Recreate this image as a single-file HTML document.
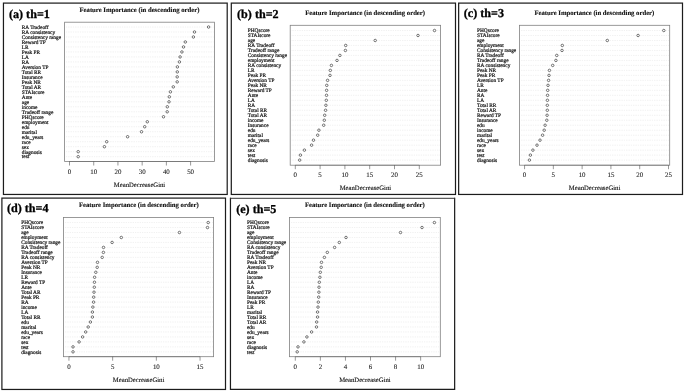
<!DOCTYPE html>
<html lang="en">
<head>
<meta charset="utf-8">
<title>Feature Importance</title>
<style>
html,body{margin:0;padding:0;background:#fff;}
svg{display:block;}
text{font-family:"Liberation Serif", serif;text-rendering:geometricPrecision;}
.lab{font-size:5.33px;fill:#222;stroke:#222;stroke-width:0.22px;}
.tick{font-size:6.9px;fill:#222;stroke:#222;stroke-width:0.1px;text-anchor:middle;}
.xlab{font-size:6.66px;fill:#111;stroke:#111;stroke-width:0.12px;text-anchor:middle;}
.title{font-size:6.7px;font-weight:bold;fill:#111;stroke:#111;stroke-width:0.12px;text-anchor:middle;}
.plabel{font-size:12.1px;font-weight:bold;fill:#000;stroke:#000;stroke-width:0.3px;}
.border{fill:none;stroke:#1c1c1c;stroke-width:1.22;}
.box{fill:none;stroke:#808080;stroke-width:0.8;}
.grid{stroke:#d9d9d9;stroke-width:0.6;stroke-dasharray:0.6 1.15;fill:none;}
.dot{fill:#fff;stroke:#2e2e2e;stroke-width:0.65;}
.tk{stroke:#444;stroke-width:0.55;fill:none;}
.ax{stroke:#5a5a5a;stroke-width:0.5;fill:none;}
</style>
</head>
<body>
<svg width="685" height="392" viewBox="0 0 685 392">
<rect x="0" y="0" width="685" height="392" fill="#fff"/>
<g id="panel-a">
<rect class="border" x="3.45" y="3.1" width="223.75" height="191.35"/>
<path class="grid" d="M66.2 27H213.6M66.2 31.99H213.6M66.2 36.98H213.6M66.2 41.96H213.6M66.2 46.95H213.6M66.2 51.94H213.6M66.2 56.93H213.6M66.2 61.92H213.6M66.2 66.9H213.6M66.2 71.89H213.6M66.2 76.88H213.6M66.2 81.87H213.6M66.2 86.86H213.6M66.2 91.84H213.6M66.2 96.83H213.6M66.2 101.82H213.6M66.2 106.81H213.6M66.2 111.8H213.6M66.2 116.78H213.6M66.2 121.77H213.6M66.2 126.76H213.6M66.2 131.75H213.6M66.2 136.74H213.6M66.2 141.72H213.6M66.2 146.71H213.6M66.2 151.7H213.6M66.2 156.69H213.6"/>
<rect class="box" x="64.6" y="22.2" width="149.8" height="139.3"/>
<path class="ax" d="M69.5 161.5H190.6"/>
<path class="tk" d="M69.5 161.5v4M93.72 161.5v4M117.94 161.5v4M142.16 161.5v4M166.38 161.5v4M190.6 161.5v4"/>
<text class="tick" x="69.5" y="173.9">0</text>
<text class="tick" x="93.72" y="173.9">10</text>
<text class="tick" x="117.94" y="173.9">20</text>
<text class="tick" x="142.16" y="173.9">30</text>
<text class="tick" x="166.38" y="173.9">40</text>
<text class="tick" x="190.6" y="173.9">50</text>
<circle class="dot" cx="208.6" cy="27" r="1.25"/>
<circle class="dot" cx="194.5" cy="31.99" r="1.25"/>
<circle class="dot" cx="193.4" cy="36.98" r="1.25"/>
<circle class="dot" cx="185.3" cy="41.96" r="1.25"/>
<circle class="dot" cx="183.5" cy="46.95" r="1.25"/>
<circle class="dot" cx="181.9" cy="51.94" r="1.25"/>
<circle class="dot" cx="180.1" cy="56.93" r="1.25"/>
<circle class="dot" cx="179.4" cy="61.92" r="1.25"/>
<circle class="dot" cx="177.4" cy="66.9" r="1.25"/>
<circle class="dot" cx="177.3" cy="71.89" r="1.25"/>
<circle class="dot" cx="177.2" cy="76.88" r="1.25"/>
<circle class="dot" cx="177.2" cy="81.87" r="1.25"/>
<circle class="dot" cx="173.3" cy="86.86" r="1.25"/>
<circle class="dot" cx="170.4" cy="91.84" r="1.25"/>
<circle class="dot" cx="169.3" cy="96.83" r="1.25"/>
<circle class="dot" cx="169" cy="101.82" r="1.25"/>
<circle class="dot" cx="167.3" cy="106.81" r="1.25"/>
<circle class="dot" cx="167.2" cy="111.8" r="1.25"/>
<circle class="dot" cx="163.5" cy="116.78" r="1.25"/>
<circle class="dot" cx="147.3" cy="121.77" r="1.25"/>
<circle class="dot" cx="144.7" cy="126.76" r="1.25"/>
<circle class="dot" cx="141.5" cy="131.75" r="1.25"/>
<circle class="dot" cx="127.6" cy="136.74" r="1.25"/>
<circle class="dot" cx="106.7" cy="141.72" r="1.25"/>
<circle class="dot" cx="104.4" cy="146.71" r="1.25"/>
<circle class="dot" cx="78.2" cy="151.7" r="1.25"/>
<circle class="dot" cx="78.2" cy="156.69" r="1.25"/>
<text class="lab" x="21.8" y="28.8">RA Tradeoff</text>
<text class="lab" x="21.8" y="33.79">RA consistency</text>
<text class="lab" x="21.8" y="38.78">Consistency range</text>
<text class="lab" x="21.8" y="43.76">Reward TP</text>
<text class="lab" x="21.8" y="48.75">LR</text>
<text class="lab" x="21.8" y="53.74">Peak PR</text>
<text class="lab" x="21.8" y="58.73">LA</text>
<text class="lab" x="21.8" y="63.72">RA</text>
<text class="lab" x="21.8" y="68.7">Aversion TP</text>
<text class="lab" x="21.8" y="73.69">Total RR</text>
<text class="lab" x="21.8" y="78.68">Insurance</text>
<text class="lab" x="21.8" y="83.67">Peak NR</text>
<text class="lab" x="21.8" y="88.66">Total AR</text>
<text class="lab" x="21.8" y="93.64">STAIscore</text>
<text class="lab" x="21.8" y="98.63">Ante</text>
<text class="lab" x="21.8" y="103.62">age</text>
<text class="lab" x="21.8" y="108.61">income</text>
<text class="lab" x="21.8" y="113.6">Tradeoff range</text>
<text class="lab" x="21.8" y="118.58">PHQscore</text>
<text class="lab" x="21.8" y="123.57">employment</text>
<text class="lab" x="21.8" y="128.56">edu</text>
<text class="lab" x="21.8" y="133.55">marital</text>
<text class="lab" x="21.8" y="138.54">edu_years</text>
<text class="lab" x="21.8" y="143.52">race</text>
<text class="lab" x="21.8" y="148.51">sex</text>
<text class="lab" x="21.8" y="153.5">diagnosis</text>
<text class="lab" x="21.8" y="158.49">test</text>
<text class="title" x="139.45" y="11.7">Feature Importance (in descending order)</text>
<text class="xlab" x="139.5" y="186.6">MeanDecreaseGini</text>
<text class="plabel" x="9" y="17.5">(a) th=1</text>
</g>
<g id="panel-b">
<rect class="border" x="231.3" y="3.1" width="224.2" height="191.35"/>
<path class="grid" d="M291.8 30.5H439.8M291.8 35.48H439.8M291.8 40.47H439.8M291.8 45.45H439.8M291.8 50.44H439.8M291.8 55.42H439.8M291.8 60.41H439.8M291.8 65.4H439.8M291.8 70.38H439.8M291.8 75.37H439.8M291.8 80.35H439.8M291.8 85.34H439.8M291.8 90.32H439.8M291.8 95.31H439.8M291.8 100.29H439.8M291.8 105.28H439.8M291.8 110.26H439.8M291.8 115.25H439.8M291.8 120.23H439.8M291.8 125.22H439.8M291.8 130.2H439.8M291.8 135.19H439.8M291.8 140.17H439.8M291.8 145.16H439.8M291.8 150.14H439.8M291.8 155.12H439.8M291.8 160.11H439.8"/>
<rect class="box" x="290.2" y="25.3" width="150.4" height="139.9"/>
<path class="ax" d="M295.3 165.2H419.3"/>
<path class="tk" d="M295.3 165.2v4M320.1 165.2v4M344.9 165.2v4M369.7 165.2v4M394.5 165.2v4M419.3 165.2v4"/>
<text class="tick" x="295.3" y="176.6">0</text>
<text class="tick" x="320.1" y="176.6">5</text>
<text class="tick" x="344.9" y="176.6">10</text>
<text class="tick" x="369.7" y="176.6">15</text>
<text class="tick" x="394.5" y="176.6">20</text>
<text class="tick" x="419.3" y="176.6">25</text>
<circle class="dot" cx="434.5" cy="30.5" r="1.25"/>
<circle class="dot" cx="418" cy="35.48" r="1.25"/>
<circle class="dot" cx="375.2" cy="40.47" r="1.25"/>
<circle class="dot" cx="345.7" cy="45.45" r="1.25"/>
<circle class="dot" cx="345.4" cy="50.44" r="1.25"/>
<circle class="dot" cx="339.9" cy="55.42" r="1.25"/>
<circle class="dot" cx="337" cy="60.41" r="1.25"/>
<circle class="dot" cx="331.4" cy="65.4" r="1.25"/>
<circle class="dot" cx="330.3" cy="70.38" r="1.25"/>
<circle class="dot" cx="330" cy="75.37" r="1.25"/>
<circle class="dot" cx="327.6" cy="80.35" r="1.25"/>
<circle class="dot" cx="326.75" cy="85.34" r="1.25"/>
<circle class="dot" cx="326.6" cy="90.32" r="1.25"/>
<circle class="dot" cx="326.5" cy="95.31" r="1.25"/>
<circle class="dot" cx="326.3" cy="100.29" r="1.25"/>
<circle class="dot" cx="325.9" cy="105.28" r="1.25"/>
<circle class="dot" cx="325.6" cy="110.26" r="1.25"/>
<circle class="dot" cx="324.7" cy="115.25" r="1.25"/>
<circle class="dot" cx="324.3" cy="120.23" r="1.25"/>
<circle class="dot" cx="323.7" cy="125.22" r="1.25"/>
<circle class="dot" cx="318.9" cy="130.2" r="1.25"/>
<circle class="dot" cx="317.7" cy="135.19" r="1.25"/>
<circle class="dot" cx="313.5" cy="140.17" r="1.25"/>
<circle class="dot" cx="311.6" cy="145.16" r="1.25"/>
<circle class="dot" cx="304.4" cy="150.14" r="1.25"/>
<circle class="dot" cx="300.4" cy="155.12" r="1.25"/>
<circle class="dot" cx="299.7" cy="160.11" r="1.25"/>
<text class="lab" x="247.8" y="32.3">PHQscore</text>
<text class="lab" x="247.8" y="37.28">STAIscore</text>
<text class="lab" x="247.8" y="42.27">age</text>
<text class="lab" x="247.8" y="47.25">RA Tradeoff</text>
<text class="lab" x="247.8" y="52.24">Tradeoff range</text>
<text class="lab" x="247.8" y="57.22">Consistency range</text>
<text class="lab" x="247.8" y="62.21">employment</text>
<text class="lab" x="247.8" y="67.2">RA consistency</text>
<text class="lab" x="247.8" y="72.18">LR</text>
<text class="lab" x="247.8" y="77.17">Peak PR</text>
<text class="lab" x="247.8" y="82.15">Aversion TP</text>
<text class="lab" x="247.8" y="87.14">Peak NR</text>
<text class="lab" x="247.8" y="92.12">Reward TP</text>
<text class="lab" x="247.8" y="97.11">Ante</text>
<text class="lab" x="247.8" y="102.09">LA</text>
<text class="lab" x="247.8" y="107.08">RA</text>
<text class="lab" x="247.8" y="112.06">Total RR</text>
<text class="lab" x="247.8" y="117.05">Total AR</text>
<text class="lab" x="247.8" y="122.03">income</text>
<text class="lab" x="247.8" y="127.02">Insurance</text>
<text class="lab" x="247.8" y="132">edu</text>
<text class="lab" x="247.8" y="136.99">marital</text>
<text class="lab" x="247.8" y="141.97">edu_years</text>
<text class="lab" x="247.8" y="146.96">race</text>
<text class="lab" x="247.8" y="151.94">sex</text>
<text class="lab" x="247.8" y="156.93">test</text>
<text class="lab" x="247.8" y="161.91">diagnosis</text>
<text class="title" x="365.1" y="14.9">Feature Importance (in descending order)</text>
<text class="xlab" x="365.4" y="189.7">MeanDecreaseGini</text>
<text class="plabel" x="237.1" y="17.6">(b) th=2</text>
</g>
<g id="panel-c">
<rect class="border" x="458.65" y="3.1" width="223.85" height="191.35"/>
<path class="grid" d="M521 30.5H668.9M521 35.48H668.9M521 40.47H668.9M521 45.45H668.9M521 50.44H668.9M521 55.42H668.9M521 60.41H668.9M521 65.4H668.9M521 70.38H668.9M521 75.37H668.9M521 80.35H668.9M521 85.34H668.9M521 90.32H668.9M521 95.31H668.9M521 100.29H668.9M521 105.28H668.9M521 110.26H668.9M521 115.25H668.9M521 120.23H668.9M521 125.22H668.9M521 130.2H668.9M521 135.19H668.9M521 140.17H668.9M521 145.16H668.9M521 150.14H668.9M521 155.12H668.9M521 160.11H668.9"/>
<rect class="box" x="519.4" y="25.3" width="150.3" height="139.9"/>
<path class="ax" d="M524.55 165.2H668.5"/>
<path class="tk" d="M524.55 165.2v4M553.34 165.2v4M582.13 165.2v4M610.92 165.2v4M639.71 165.2v4M668.5 165.2v4"/>
<text class="tick" x="524.55" y="176.6">0</text>
<text class="tick" x="553.34" y="176.6">5</text>
<text class="tick" x="582.13" y="176.6">10</text>
<text class="tick" x="610.92" y="176.6">15</text>
<text class="tick" x="639.71" y="176.6">20</text>
<text class="tick" x="668.5" y="176.6">25</text>
<circle class="dot" cx="663.8" cy="30.5" r="1.25"/>
<circle class="dot" cx="638.1" cy="35.48" r="1.25"/>
<circle class="dot" cx="607.3" cy="40.47" r="1.25"/>
<circle class="dot" cx="562.3" cy="45.45" r="1.25"/>
<circle class="dot" cx="562" cy="50.44" r="1.25"/>
<circle class="dot" cx="556.75" cy="55.42" r="1.25"/>
<circle class="dot" cx="555.9" cy="60.41" r="1.25"/>
<circle class="dot" cx="552.7" cy="65.4" r="1.25"/>
<circle class="dot" cx="549.45" cy="70.38" r="1.25"/>
<circle class="dot" cx="549" cy="75.37" r="1.25"/>
<circle class="dot" cx="548.6" cy="80.35" r="1.25"/>
<circle class="dot" cx="548" cy="85.34" r="1.25"/>
<circle class="dot" cx="547.7" cy="90.32" r="1.25"/>
<circle class="dot" cx="547.55" cy="95.31" r="1.25"/>
<circle class="dot" cx="547.4" cy="100.29" r="1.25"/>
<circle class="dot" cx="547.3" cy="105.28" r="1.25"/>
<circle class="dot" cx="547.3" cy="110.26" r="1.25"/>
<circle class="dot" cx="547.1" cy="115.25" r="1.25"/>
<circle class="dot" cx="546.8" cy="120.23" r="1.25"/>
<circle class="dot" cx="545.1" cy="125.22" r="1.25"/>
<circle class="dot" cx="544.2" cy="130.2" r="1.25"/>
<circle class="dot" cx="542.6" cy="135.19" r="1.25"/>
<circle class="dot" cx="540" cy="140.17" r="1.25"/>
<circle class="dot" cx="537" cy="145.16" r="1.25"/>
<circle class="dot" cx="532.9" cy="150.14" r="1.25"/>
<circle class="dot" cx="530.4" cy="155.12" r="1.25"/>
<circle class="dot" cx="529.4" cy="160.11" r="1.25"/>
<text class="lab" x="477" y="32.3">PHQscore</text>
<text class="lab" x="477" y="37.28">STAIscore</text>
<text class="lab" x="477" y="42.27">age</text>
<text class="lab" x="477" y="47.25">employment</text>
<text class="lab" x="477" y="52.24">Consistency range</text>
<text class="lab" x="477" y="57.22">RA Tradeoff</text>
<text class="lab" x="477" y="62.21">Tradeoff range</text>
<text class="lab" x="477" y="67.2">RA consistency</text>
<text class="lab" x="477" y="72.18">Peak NR</text>
<text class="lab" x="477" y="77.17">Peak PR</text>
<text class="lab" x="477" y="82.15">Aversion TP</text>
<text class="lab" x="477" y="87.14">LR</text>
<text class="lab" x="477" y="92.12">Ante</text>
<text class="lab" x="477" y="97.11">RA</text>
<text class="lab" x="477" y="102.09">LA</text>
<text class="lab" x="477" y="107.08">Total RR</text>
<text class="lab" x="477" y="112.06">Total AR</text>
<text class="lab" x="477" y="117.05">Reward TP</text>
<text class="lab" x="477" y="122.03">Insurance</text>
<text class="lab" x="477" y="127.02">edu</text>
<text class="lab" x="477" y="132">income</text>
<text class="lab" x="477" y="136.99">marital</text>
<text class="lab" x="477" y="141.97">edu_years</text>
<text class="lab" x="477" y="146.96">race</text>
<text class="lab" x="477" y="151.94">sex</text>
<text class="lab" x="477" y="156.93">test</text>
<text class="lab" x="477" y="161.91">diagnosis</text>
<text class="title" x="594.4" y="14.6">Feature Importance (in descending order)</text>
<text class="xlab" x="594.55" y="189.7">MeanDecreaseGini</text>
<text class="plabel" x="463.8" y="17">(c) th=3</text>
</g>
<g id="panel-d">
<rect class="border" x="1.9" y="198.1" width="223.6" height="191.35"/>
<path class="grid" d="M65.1 222.55H212.8M65.1 227.52H212.8M65.1 232.5H212.8M65.1 237.47H212.8M65.1 242.44H212.8M65.1 247.42H212.8M65.1 252.39H212.8M65.1 257.36H212.8M65.1 262.33H212.8M65.1 267.31H212.8M65.1 272.28H212.8M65.1 277.25H212.8M65.1 282.23H212.8M65.1 287.2H212.8M65.1 292.17H212.8M65.1 297.14H212.8M65.1 302.12H212.8M65.1 307.09H212.8M65.1 312.06H212.8M65.1 317.04H212.8M65.1 322.01H212.8M65.1 326.98H212.8M65.1 331.96H212.8M65.1 336.93H212.8M65.1 341.9H212.8M65.1 346.88H212.8M65.1 351.85H212.8"/>
<rect class="box" x="63.5" y="217.5" width="150.1" height="139.2"/>
<path class="ax" d="M68.95 356.7H200.05"/>
<path class="tk" d="M68.95 356.7v4M112.65 356.7v4M156.35 356.7v4M200.05 356.7v4"/>
<text class="tick" x="68.95" y="368.8">0</text>
<text class="tick" x="112.65" y="368.8">5</text>
<text class="tick" x="156.35" y="368.8">10</text>
<text class="tick" x="200.05" y="368.8">15</text>
<circle class="dot" cx="208.2" cy="222.55" r="1.25"/>
<circle class="dot" cx="207.5" cy="227.52" r="1.25"/>
<circle class="dot" cx="179.45" cy="232.5" r="1.25"/>
<circle class="dot" cx="121.3" cy="237.47" r="1.25"/>
<circle class="dot" cx="112.1" cy="242.44" r="1.25"/>
<circle class="dot" cx="103.5" cy="247.42" r="1.25"/>
<circle class="dot" cx="103.4" cy="252.39" r="1.25"/>
<circle class="dot" cx="102.2" cy="257.36" r="1.25"/>
<circle class="dot" cx="97.5" cy="262.33" r="1.25"/>
<circle class="dot" cx="97.2" cy="267.31" r="1.25"/>
<circle class="dot" cx="95.8" cy="272.28" r="1.25"/>
<circle class="dot" cx="94.6" cy="277.25" r="1.25"/>
<circle class="dot" cx="94.45" cy="282.23" r="1.25"/>
<circle class="dot" cx="94.3" cy="287.2" r="1.25"/>
<circle class="dot" cx="94" cy="292.17" r="1.25"/>
<circle class="dot" cx="93.7" cy="297.14" r="1.25"/>
<circle class="dot" cx="93.6" cy="302.12" r="1.25"/>
<circle class="dot" cx="92.85" cy="307.09" r="1.25"/>
<circle class="dot" cx="92.4" cy="312.06" r="1.25"/>
<circle class="dot" cx="92.4" cy="317.04" r="1.25"/>
<circle class="dot" cx="90.4" cy="322.01" r="1.25"/>
<circle class="dot" cx="88.2" cy="326.98" r="1.25"/>
<circle class="dot" cx="85.7" cy="331.96" r="1.25"/>
<circle class="dot" cx="82.6" cy="336.93" r="1.25"/>
<circle class="dot" cx="79.1" cy="341.9" r="1.25"/>
<circle class="dot" cx="73" cy="346.88" r="1.25"/>
<circle class="dot" cx="73" cy="351.85" r="1.25"/>
<text class="lab" x="21.2" y="224.35">PHQscore</text>
<text class="lab" x="21.2" y="229.32">STAIscore</text>
<text class="lab" x="21.2" y="234.3">age</text>
<text class="lab" x="21.2" y="239.27">employment</text>
<text class="lab" x="21.2" y="244.24">Consistency range</text>
<text class="lab" x="21.2" y="249.22">RA Tradeoff</text>
<text class="lab" x="21.2" y="254.19">Tradeoff range</text>
<text class="lab" x="21.2" y="259.16">RA consistency</text>
<text class="lab" x="21.2" y="264.13">Aversion TP</text>
<text class="lab" x="21.2" y="269.11">Peak NR</text>
<text class="lab" x="21.2" y="274.08">Insurance</text>
<text class="lab" x="21.2" y="279.05">LR</text>
<text class="lab" x="21.2" y="284.03">Reward TP</text>
<text class="lab" x="21.2" y="289">Ante</text>
<text class="lab" x="21.2" y="293.97">Total AR</text>
<text class="lab" x="21.2" y="298.94">Peak PR</text>
<text class="lab" x="21.2" y="303.92">RA</text>
<text class="lab" x="21.2" y="308.89">income</text>
<text class="lab" x="21.2" y="313.86">LA</text>
<text class="lab" x="21.2" y="318.84">Total RR</text>
<text class="lab" x="21.2" y="323.81">edu</text>
<text class="lab" x="21.2" y="328.78">marital</text>
<text class="lab" x="21.2" y="333.76">edu_years</text>
<text class="lab" x="21.2" y="338.73">race</text>
<text class="lab" x="21.2" y="343.7">sex</text>
<text class="lab" x="21.2" y="348.68">test</text>
<text class="lab" x="21.2" y="353.65">diagnosis</text>
<text class="title" x="138.85" y="206.5">Feature Importance (in descending order)</text>
<text class="xlab" x="138.55" y="381.5">MeanDecreaseGini</text>
<text class="plabel" x="7" y="211.9">(d) th=4</text>
</g>
<g id="panel-e">
<path class="border" d="M230.45 197.8V389.45H454.65V197.8"/>
<path d="M230.15 198.3H454.95" fill="none" stroke="#363636" stroke-width="1.0"/>
<path class="grid" d="M291.1 222.55H439.5M291.1 227.52H439.5M291.1 232.5H439.5M291.1 237.47H439.5M291.1 242.44H439.5M291.1 247.42H439.5M291.1 252.39H439.5M291.1 257.36H439.5M291.1 262.33H439.5M291.1 267.31H439.5M291.1 272.28H439.5M291.1 277.25H439.5M291.1 282.23H439.5M291.1 287.2H439.5M291.1 292.17H439.5M291.1 297.14H439.5M291.1 302.12H439.5M291.1 307.09H439.5M291.1 312.06H439.5M291.1 317.04H439.5M291.1 322.01H439.5M291.1 326.98H439.5M291.1 331.96H439.5M291.1 336.93H439.5M291.1 341.9H439.5M291.1 346.88H439.5M291.1 351.85H439.5"/>
<rect class="box" x="289.5" y="217.5" width="150.8" height="139.2"/>
<path class="ax" d="M295.3 356.7H420.65"/>
<path class="tk" d="M295.3 356.7v4M320.37 356.7v4M345.44 356.7v4M370.51 356.7v4M395.58 356.7v4M420.65 356.7v4"/>
<text class="tick" x="295.3" y="368.8">0</text>
<text class="tick" x="320.37" y="368.8">2</text>
<text class="tick" x="345.44" y="368.8">4</text>
<text class="tick" x="370.51" y="368.8">6</text>
<text class="tick" x="395.58" y="368.8">8</text>
<text class="tick" x="420.65" y="368.8">10</text>
<circle class="dot" cx="434.4" cy="222.55" r="1.25"/>
<circle class="dot" cx="422" cy="227.52" r="1.25"/>
<circle class="dot" cx="400.5" cy="232.5" r="1.25"/>
<circle class="dot" cx="346" cy="237.47" r="1.25"/>
<circle class="dot" cx="339.3" cy="242.44" r="1.25"/>
<circle class="dot" cx="334.6" cy="247.42" r="1.25"/>
<circle class="dot" cx="327.3" cy="252.39" r="1.25"/>
<circle class="dot" cx="324.4" cy="257.36" r="1.25"/>
<circle class="dot" cx="321.5" cy="262.33" r="1.25"/>
<circle class="dot" cx="321.2" cy="267.31" r="1.25"/>
<circle class="dot" cx="320.3" cy="272.28" r="1.25"/>
<circle class="dot" cx="319.9" cy="277.25" r="1.25"/>
<circle class="dot" cx="319.3" cy="282.23" r="1.25"/>
<circle class="dot" cx="319" cy="287.2" r="1.25"/>
<circle class="dot" cx="318.9" cy="292.17" r="1.25"/>
<circle class="dot" cx="318.7" cy="297.14" r="1.25"/>
<circle class="dot" cx="318.3" cy="302.12" r="1.25"/>
<circle class="dot" cx="318" cy="307.09" r="1.25"/>
<circle class="dot" cx="317.55" cy="312.06" r="1.25"/>
<circle class="dot" cx="317.55" cy="317.04" r="1.25"/>
<circle class="dot" cx="316.7" cy="322.01" r="1.25"/>
<circle class="dot" cx="316.5" cy="326.98" r="1.25"/>
<circle class="dot" cx="311.6" cy="331.96" r="1.25"/>
<circle class="dot" cx="306.9" cy="336.93" r="1.25"/>
<circle class="dot" cx="303.9" cy="341.9" r="1.25"/>
<circle class="dot" cx="298" cy="346.88" r="1.25"/>
<circle class="dot" cx="297.2" cy="351.85" r="1.25"/>
<text class="lab" x="247" y="224.35">PHQscore</text>
<text class="lab" x="247" y="229.32">STAIscore</text>
<text class="lab" x="247" y="234.3">age</text>
<text class="lab" x="247" y="239.27">employment</text>
<text class="lab" x="247" y="244.24">Consistency range</text>
<text class="lab" x="247" y="249.22">RA consistency</text>
<text class="lab" x="247" y="254.19">Tradeoff range</text>
<text class="lab" x="247" y="259.16">RA Tradeoff</text>
<text class="lab" x="247" y="264.13">Peak NR</text>
<text class="lab" x="247" y="269.11">Aversion TP</text>
<text class="lab" x="247" y="274.08">Ante</text>
<text class="lab" x="247" y="279.05">income</text>
<text class="lab" x="247" y="284.03">LA</text>
<text class="lab" x="247" y="289">RA</text>
<text class="lab" x="247" y="293.97">Reward TP</text>
<text class="lab" x="247" y="298.94">Insurance</text>
<text class="lab" x="247" y="303.92">Peak PR</text>
<text class="lab" x="247" y="308.89">LR</text>
<text class="lab" x="247" y="313.86">marital</text>
<text class="lab" x="247" y="318.84">Total RR</text>
<text class="lab" x="247" y="323.81">Total AR</text>
<text class="lab" x="247" y="328.78">edu</text>
<text class="lab" x="247" y="333.76">edu_years</text>
<text class="lab" x="247" y="338.73">sex</text>
<text class="lab" x="247" y="343.7">race</text>
<text class="lab" x="247" y="348.68">diagnosis</text>
<text class="lab" x="247" y="353.65">test</text>
<text class="title" x="364.9" y="206.5">Feature Importance (in descending order)</text>
<text class="xlab" x="364.9" y="381.5">MeanDecreaseGini</text>
<text class="plabel" x="236.2" y="213.1">(e) th=5</text>
</g>
</svg>
</body>
</html>
